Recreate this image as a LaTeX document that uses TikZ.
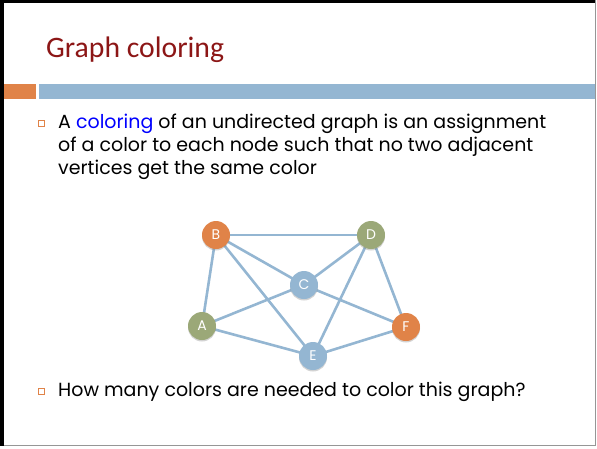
\documentclass[tikz,border=0pt]{standalone}
\usepackage{fontspec}
\setmainfont{Poppins}
\newfontfamily\titlefont{Carlito}
\usepackage{xcolor}
\usetikzlibrary{shadows,backgrounds}
\definecolor{maroon}{RGB}{140,22,22}
\definecolor{rust}{RGB}{224,131,72}
\definecolor{steel}{RGB}{148,182,210}
\definecolor{olive}{RGB}{155,168,120}
\definecolor{hue}{RGB}{0,0,255}
\definecolor{framegray}{RGB}{150,150,150}
\definecolor{frameblack}{RGB}{0,0,0}

\begin{document}
\begin{tikzpicture}[x=1pt,y=-1pt,
      vert/.style={circle,minimum size=28pt,inner sep=0pt,text=white,
                   font=\fontsize{14}{14}\selectfont,
                   drop shadow={opacity=0.35,shadow xshift=0pt,shadow yshift=-1.5pt}},
      vrust/.style={vert,fill=rust},
      vsteel/.style={vert,fill=steel},
      volive/.style={vert,fill=olive},
      link/.style={draw=steel,line width=2.6pt},
      bulletsq/.style={draw=rust,line width=0.9pt,minimum size=6pt,inner sep=0pt},
      body/.style={anchor=north west,inner sep=0pt,align=left,
                   font=\fontsize{19}{22.8}\selectfont}]
      \useasboundingbox (0,0) rectangle (597,448);
      % frame and header bars
      \draw[framegray,line width=1pt] (595,0) -- (595,445.5) -- (0,445.5);
      \fill[frameblack] (0,0) rectangle (4,446);
      \fill[frameblack] (0,0) rectangle (595,3);
      \fill[rust] (4,84) rectangle (36,99);
      \fill[steel] (39,84) rectangle (595,99);
      \node[anchor=base west,inner sep=0pt,text=maroon,font=\titlefont\fontsize{29.7}{29.7}\selectfont]
            (title) at (46,57) {Graph coloring};
      % bullets
      \node[bulletsq] (sq1) at (41.5,123.5) {};
      \node[body] (def) at (58,114) {A \textcolor{hue}{coloring} of an undirected graph is an assignment\\
            of a color to each node such that no two adjacent\\vertices get the same color};
      \node[bulletsq] (sq2) at (41.5,391.5) {};
      \node[body] (ask) at (58,382) {How many colors are needed to color this graph?};
      % graph
      \node[vrust]  (B) at (216,235) {B};
      \node[volive] (D) at (371,235) {D};
      \node[vsteel] (C) at (304,285) {C};
      \node[volive] (A) at (202,326) {A};
      \node[vrust]  (F) at (406,327) {F};
      \node[vsteel] (E) at (313,356) {E};
      \begin{scope}[on background layer]
        \foreach \u/\v in {B/D,B/A,B/C,B/E,D/C,D/E,D/F,C/A,C/F,A/E,E/F}
          \draw[link] (\u.center) -- (\v.center);
      \end{scope}
    \end{tikzpicture}
\end{document}
